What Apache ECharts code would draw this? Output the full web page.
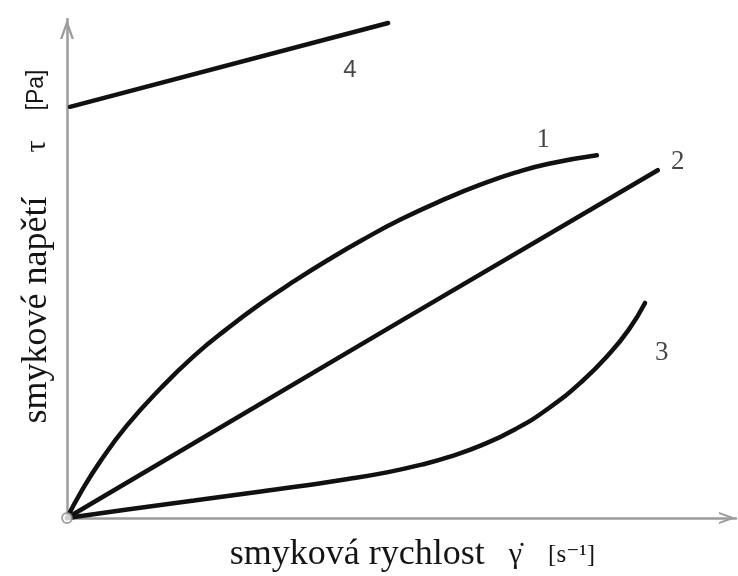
<!DOCTYPE html>
<html>
<head>
<meta charset="utf-8">
<script src="https://cdn.jsdelivr.net/npm/echarts@6/dist/echarts.min.js"></script>
<style>
  html, body { margin: 0; padding: 0; background: #fff; }
  #chart { width: 738px; height: 576px; }
</style>
</head>
<body>
<div id="chart"></div>
<script>
// ---- data ----
const curve1X = [0, 2, 5, 9, 14, 19, 24, 29, 34, 39, 44, 50, 57, 62, 67, 72, 79.2];
const curve1Y = [0, 5.0, 11.4, 18.6, 26.0, 32.5, 38.0, 43.0, 47.5, 51.7, 55.6, 59.9, 64.2, 66.9, 69.2, 71.0, 72.7];

const curve2X = [0, 49.8, 88.3];
const curve2Y = [0, 39.4, 69.7];

const curve3X = [0, 9, 19, 29, 35, 42, 48, 53, 57, 62, 67, 72, 77, 81, 84, 86.4];
const curve3Y = [0, 1.7, 3.5, 5.3, 6.4, 7.8, 9.2, 10.7, 12.2, 14.6, 17.8, 22.0, 27.4, 32.8, 37.8, 43.1];

const curve4X = [0.45, 48.0];
const curve4Y = [82.4, 99.2];

const labelText = ['1', '2', '3', '4'];
const labelX = [71.2, 91.3, 88.9, 42.3];
const labelY = [75.8, 71.3, 33.1, 89.8];

const xTitleMain = 'smyková rychlost';
const xTitleSym = 'γ̇';
const xTitleUnit = '[s⁻¹]';
const yTitleMain = 'smykové napětí';
const yTitleSym = 'τ';
const yTitleUnit = '[Pa]';

// ---- build ----
function zip(xs, ys) { return xs.map((x, i) => [x, ys[i]]); }

const SERIF = '"Liberation Serif", "DejaVu Serif", serif';
const SANS = '"Liberation Sans", "DejaVu Sans", sans-serif';
const AXIS_COLOR = '#9c9c9c';
const LINE_COLOR = '#111';
const TEXT_COLOR = '#151515';
const chevron = 'path://M0,20 L7,0 L14,20 L11.6,20 L7,7 L2.4,20 Z';

const lineSeries = (data, smooth) => ({
  type: 'line',
  data: data,
  smooth: smooth,
  showSymbol: false,
  symbol: 'none',
  clip: false,
  lineStyle: { color: LINE_COLOR, width: 4.5, cap: 'round' },
  silent: true,
  z: 3
});

const chart = echarts.init(document.getElementById('chart'), null, { renderer: 'canvas' });
chart.setOption({
  animation: false,
  backgroundColor: '#ffffff',
  grid: { left: 67, right: 2, top: 19, bottom: 58, containLabel: false, outerBoundsMode: 'none' },
  xAxis: {
    type: 'value', min: 0, max: 100,
    axisLine: { show: true, onZero: false, symbol: ['none', chevron], symbolSize: [14, 17], symbolOffset: [0, -8.5],
      lineStyle: { color: AXIS_COLOR, width: 2.5 } },
    axisTick: { show: false }, axisLabel: { show: false }, splitLine: { show: false },
    name: '{a|' + xTitleMain + '}{s|}{g|' + xTitleSym + '}{t|}{u|' + xTitleUnit + '}',
    nameLocation: 'middle',
    nameGap: 19,
    nameTextStyle: {
      padding: [0, 0, 0, 22],
      rich: {
        a: { fontFamily: SERIF, fontSize: 36, color: TEXT_COLOR },
        s: { width: 24 },
        g: { fontFamily: SERIF, fontSize: 30, color: TEXT_COLOR },
        t: { width: 26 },
        u: { fontFamily: SERIF, fontSize: 25, color: TEXT_COLOR }
      }
    }
  },
  yAxis: {
    type: 'value', min: 0, max: 100,
    axisLine: { show: true, onZero: false, symbol: ['none', chevron], symbolSize: [14, 20], symbolOffset: [0, -10],
      lineStyle: { color: AXIS_COLOR, width: 2.5 } },
    axisTick: { show: false }, axisLabel: { show: false }, splitLine: { show: false },
    name: '{a|' + yTitleMain + '}{s|}{g|' + yTitleSym + '}{t|}{u|' + yTitleUnit + '}',
    nameLocation: 'middle',
    nameGap: 12,
    nameTextStyle: {
      padding: [0, 0, 0, 44],
      rich: {
        a: { fontFamily: SERIF, fontSize: 36, color: TEXT_COLOR },
        s: { width: 44 },
        g: { fontFamily: SERIF, fontSize: 30, color: TEXT_COLOR },
        t: { width: 30 },
        u: { fontFamily: SANS, fontSize: 23, color: TEXT_COLOR }
      }
    }
  },
  series: [
    lineSeries(zip(curve1X, curve1Y), 0.5),
    lineSeries(zip(curve2X, curve2Y), false),
    lineSeries(zip(curve3X, curve3Y), 0.5),
    lineSeries(zip(curve4X, curve4Y), false),
    {
      type: 'scatter',
      data: [[0, 0]],
      symbol: 'circle',
      symbolSize: 10,
      itemStyle: { color: '#fff', borderColor: '#8a8a8a', borderWidth: 1.8 },
      clip: false,
      silent: true,
      z: 5
    },
    {
      type: 'scatter',
      data: labelText.map((t, i) => ({
        name: t,
        value: [labelX[i], labelY[i]],
        label: t === '4' ? { fontFamily: SANS, fontSize: 24 } : undefined
      })),
      symbol: 'circle',
      symbolSize: 1,
      itemStyle: { color: 'rgba(0,0,0,0)' },
      clip: false,
      silent: true,
      label: {
        show: true, position: 'inside', formatter: '{b}',
        fontFamily: SERIF, fontSize: 27, color: TEXT_COLOR
      },
      z: 6
    }
  ]
});
</script>
</body>
</html>
